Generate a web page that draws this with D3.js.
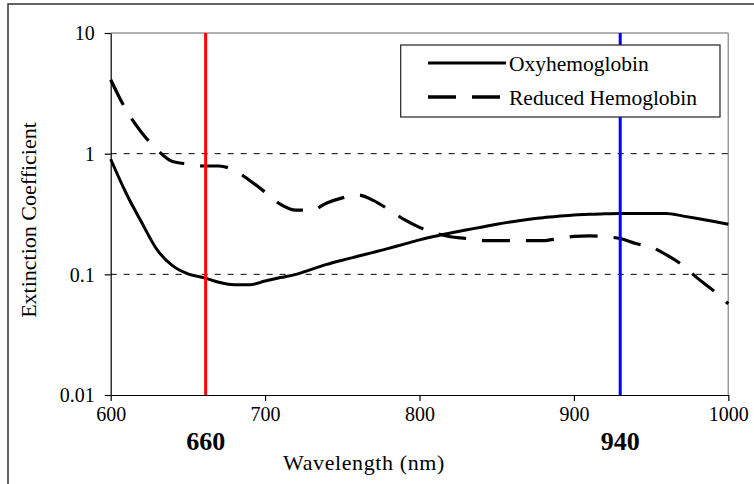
<!DOCTYPE html>
<html><head><meta charset="utf-8">
<script src="https://cdn.jsdelivr.net/npm/d3@7"></script>
<style>html,body{margin:0;padding:0;background:#fff;overflow:hidden}
svg text{font-family:"Liberation Serif","Tinos","Times New Roman","Nimbus Roman","DejaVu Serif",serif;}</style>
</head><body>
<svg id="chart" width="754" height="484"></svg>
<script>
const wavelengths = [600,610,620,630,640,650,660,670,680,690,700,710,720,730,740,750,760,770,780,790,800,810,820,830,840,850,860,870,880,890,900,910,920,930,940,950,960,970,980,990,1000];
const oxyhemoglobin = [0.90,0.47,0.27,0.16,0.118,0.101,0.094,0.086,0.082,0.082,0.088,0.094,0.100,0.110,0.121,0.131,0.141,0.152,0.164,0.178,0.193,0.207,0.220,0.233,0.246,0.260,0.273,0.285,0.295,0.303,0.310,0.314,0.318,0.320,0.320,0.320,0.320,0.305,0.290,0.275,0.260];
const reducedHemoglobin = [4.1,2.3,1.5,1.08,0.86,0.82,0.79,0.79,0.73,0.60,0.48,0.38,0.34,0.34,0.39,0.43,0.455,0.41,0.345,0.285,0.245,0.220,0.205,0.198,0.190,0.190,0.190,0.190,0.190,0.198,0.206,0.208,0.205,0.198,0.180,0.168,0.145,0.120,0.093,0.074,0.057];
const seriesNames = ["Oxyhemoglobin","Reduced Hemoglobin"];
const xTicks = [600,700,800,900,1000];
const yTicks = [0.01,0.1,1,10];
const yTickLabels = ["0.01","0.1","1","10"];
const markerWavelengths = [661.5,930];
const markerLabels = ["660","940"];
const markerColors = ["#ff0000","#0000ff"];

const svg = d3.select("#chart");
const L=110.7, R=728.3, T=33, B=395;
const x = d3.scaleLinear().domain([600,1000]).range([L,R]);
const y = d3.scaleLog().domain([0.01,10]).range([B,T]);

// outer frame (right/bottom edges outside the window)
svg.append("rect").attr("x",8).attr("y",4).attr("width",900).attr("height",600)
  .attr("fill","none").attr("stroke","#333").attr("stroke-width",1.5);

// plot border top/right grey
svg.append("line").attr("x1",L).attr("x2",R).attr("y1",T).attr("y2",T).attr("stroke","#999").attr("stroke-width",1.5);
svg.append("line").attr("x1",R).attr("x2",R).attr("y1",T).attr("y2",B).attr("stroke","#999").attr("stroke-width",1.5);

// gridlines
svg.append("g").selectAll("line").data([0.1,1]).join("line")
  .attr("x1",L).attr("x2",R).attr("y1",d=>y(d)).attr("y2",d=>y(d))
  .attr("stroke","#000").attr("stroke-width",1).attr("stroke-dasharray","6,7");

// axes
const yAxis = d3.axisLeft(y).tickValues(yTicks).tickFormat((d,i)=>yTickLabels[i]).tickSize(6).tickSizeOuter(0);
const gy = svg.append("g").attr("transform",`translate(${L},0)`).call(yAxis);
const xAxis = d3.axisBottom(x).tickValues(xTicks).tickFormat(d3.format("d")).tickSize(6).tickSizeOuter(0);
const gx = svg.append("g").attr("transform",`translate(0,${B})`).call(xAxis);
[gx,gy].forEach(g=>{
  g.attr("font-family",null).attr("font-size",null);
  g.select(".domain").attr("stroke","#000").attr("stroke-width",1.2);
  g.selectAll(".tick line").attr("stroke","#000").attr("stroke-width",1.2);
  g.selectAll(".tick text").attr("font-size",20).attr("fill","#000");
});
gy.selectAll(".tick text").attr("x",-16).attr("dy","0.34em");
gx.selectAll(".tick text").attr("y",12).attr("dy","0.71em");

// curves
const line = d3.line().x((d,i)=>x(wavelengths[i])).y(d=>y(d)).curve(d3.curveMonotoneX);
svg.append("path").datum(oxyhemoglobin).attr("d",line).attr("fill","none")
  .attr("stroke","#000").attr("stroke-width",3);
svg.append("path").datum(reducedHemoglobin).attr("d",line).attr("fill","none")
  .attr("stroke","#000").attr("stroke-width",3.2).attr("stroke-dasharray","28,16");

// marker lines
svg.append("g").selectAll("line").data(markerWavelengths).join("line")
  .attr("x1",d=>x(d)).attr("x2",d=>x(d)).attr("y1",T).attr("y2",B)
  .attr("stroke",(d,i)=>markerColors[i]).attr("stroke-width",3);
svg.append("g").selectAll("text").data(markerWavelengths).join("text")
  .attr("x",d=>x(d)).attr("y",450).attr("text-anchor","middle")
  .attr("font-size",26).attr("font-weight","bold")
  .text((d,i)=>markerLabels[i]);

// axis titles
svg.append("text").attr("x",364).attr("y",470).attr("text-anchor","middle")
  .attr("font-size",22).attr("letter-spacing",0.6).text("Wavelength (nm)");
svg.append("text").attr("transform","translate(36,220) rotate(-90)").attr("text-anchor","middle")
  .attr("font-size",22).text("Extinction Coefficient");

// legend
const lg = svg.append("g");
lg.append("rect").attr("x",400.7).attr("y",45).attr("width",319.3).attr("height",72)
  .attr("fill","#fff").attr("stroke","#222").attr("stroke-width",1.2);
const legY = [63,97];
lg.selectAll("line").data(seriesNames).join("line")
  .attr("x1",428).attr("x2",506).attr("y1",(d,i)=>legY[i]).attr("y2",(d,i)=>legY[i])
  .attr("stroke","#000").attr("stroke-width",(d,i)=>i?3.5:3)
  .attr("stroke-dasharray",(d,i)=>i?"28,16":null);
lg.selectAll("text").data(seriesNames).join("text")
  .attr("x",509).attr("y",(d,i)=>legY[i]+8).attr("font-size",21.5)
  .text(d=>d);
</script>
</body></html>
